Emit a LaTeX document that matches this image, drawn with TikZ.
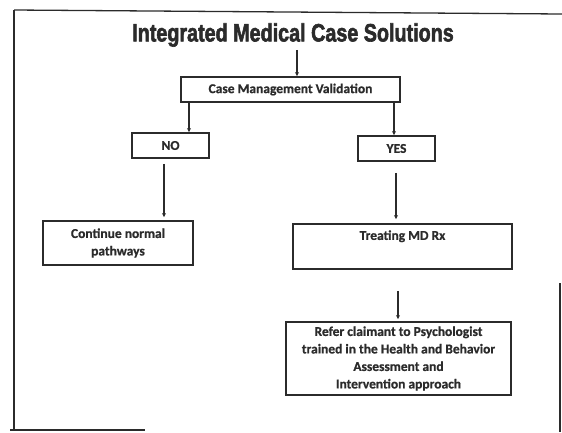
\documentclass[tikz,border=0pt]{standalone}
\usepackage{fontspec}
\setmainfont{Carlito}[BoldFeatures={FakeBold=0.8}]
\newfontfamily\titlefont{Liberation Sans}[BoldFeatures={FakeBold=2.5}]
\usetikzlibrary{arrows.meta}
\definecolor{ink}{HTML}{2B2B2B}
\begin{document}
\begin{tikzpicture}[x=1pt,y=-1pt,
  box/.style={draw=ink,line width=1.8pt,inner sep=0pt,align=center,
    font=\fontsize{13.5}{17.5}\selectfont\bfseries,text=ink},
  arr/.style={draw=ink,line width=1.4pt,-{Stealth[length=4pt,width=4pt]}},
  frameline/.style={draw=ink,line width=1.8pt}]
\useasboundingbox (0,0) rectangle (562,432);
% outer frame (partly visible)
\draw[frameline] (14,10) -- (14,431);
\draw[frameline,line width=1.3pt] (14,10) -- (562,14);
\draw[frameline] (560,283) -- (560,432);
\draw[frameline,line width=1.3pt] (10,430) -- (145,430);
% title
\node[text=ink,inner sep=0pt] (title) at (293,35)
  {\titlefont\bfseries\fontsize{25}{29}\selectfont\scalebox{0.79}[1]{Integrated Medical Case Solutions}};
% boxes
\node[box,minimum width=219pt,minimum height=25pt] (cmv) at (290.5,89.5) {Case Management Validation};
\node[box,minimum width=77pt,minimum height=25pt] (no) at (170.5,145.5) {NO};
\node[box,minimum width=77pt,minimum height=25pt] (yes) at (396.5,148.5) {YES};
\node[box,minimum width=150pt,minimum height=44pt] (cont) at (118,243) {Continue normal\\pathways};
\node[box,minimum width=219pt,minimum height=45pt] (treat) at (402.5,246.5) {Treating MD Rx\\\strut};
\node[box,minimum width=225pt,minimum height=73pt] (refer) at (398.5,358.5)
  {Refer claimant to Psychologist\\trained in the Health and Behavior\\Assessment and\\Intervention approach};
% connectors
\draw[arr] (title.south -| 297,0) ++(0,3) -- (cmv.north -| 297,0);
\draw[arr] (cmv.south -| 189,0) -- (no.north -| 189,0);
\draw[arr] (cmv.south -| 394,0) -- (yes.north -| 394,0);
\draw[arr,shorten <=5pt,shorten >=3pt] (no.south -| 164,0) -- (cont.north -| 164,0);
\draw[arr,shorten <=11pt,shorten >=4pt] (yes.south -| 396,0) -- (treat.north -| 396,0);
\draw[arr,shorten <=21pt,shorten >=2pt] (treat.south -| 398,0) -- (refer.north -| 398,0);
\end{tikzpicture}
\end{document}
